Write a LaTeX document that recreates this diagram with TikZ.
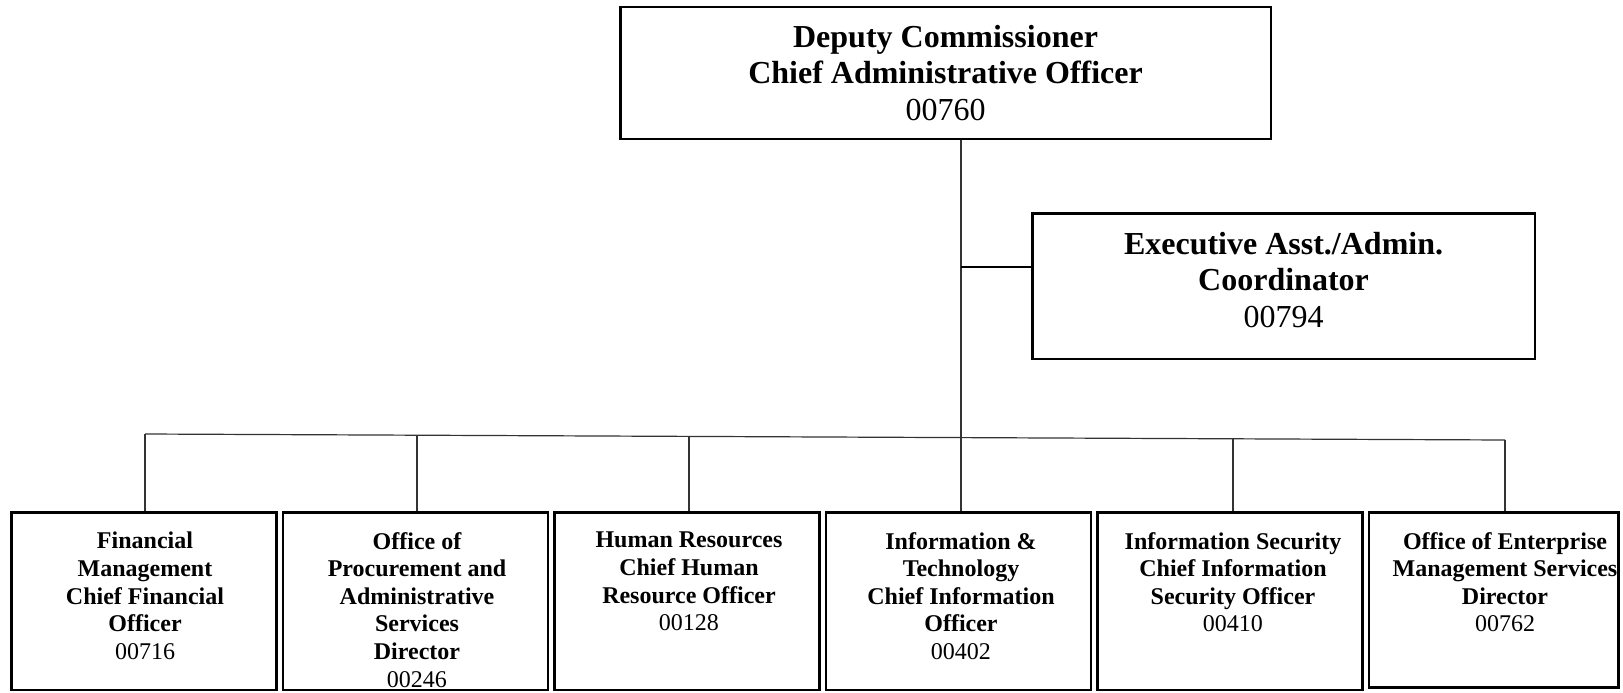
\documentclass[tikz,border=0pt]{standalone}
\usepackage{fontspec}
\setmainfont{Liberation Serif}
\usetikzlibrary{positioning, calc}

\begin{document}
\begin{tikzpicture}[x=1pt,y=-1pt]
    \tikzstyle{block} = [rectangle,draw=black,line width=2.5pt,fill=white,inner sep=0pt,anchor=north west]
    \tikzstyle{head} = [align=center,font=\fontsize{32}{36.5}\selectfont]
    \tikzstyle{unit} = [block,minimum width=265pt,minimum height=177.6pt]
    \tikzstyle{unittext} = [align=center,anchor=north,inner sep=0pt,font=\fontsize{24}{27.6}\selectfont\bfseries]
    \tikzstyle{link} = [draw=black!80,line width=1.2pt]

    \useasboundingbox (0,0) rectangle (1623,693);

    \node (dc) [block,head,minimum width=650.6pt,minimum height=131.6pt] at (619,6)
        {\textbf{Deputy Commissioner}\\\textbf{Chief Administrative Officer}\\00760};

    \node (asst) [block,minimum width=502.6pt,minimum height=145.6pt] at (1031,212) {};
    \node (assttext) [head] at ([yshift=6pt]asst.center)
        {\textbf{Executive Asst./Admin.}\\\textbf{Coordinator}\\00794};

    % bottom row
    \node (fin) [unit] at (10,511) {};
    \node (proc) [unit,right=4pt of fin.north east,anchor=north west] {};
    \node (hr) [unit,right=4pt of proc.north east,anchor=north west] {};
    \node (it) [unit,right=4pt of hr.north east,anchor=north west] {};
    \node (sec) [unit,right=4pt of it.north east,anchor=north west] {};
    \node (ems) [unit,minimum width=249.6pt,minimum height=175pt,right=4pt of sec.north east,anchor=north west] {};

    % bus and drops
    \coordinate (busl) at (145,434);
    \coordinate (busr) at (1505,440);
    \draw [link] (busl) -- (busr);
    \foreach \b [count=\i from 0] in {fin,proc,hr,it,sec,ems}
        \draw [link] ($(busl)!\i/5!(busr)$) coordinate (tap\i) -- (tap\i |- \b.north);

    \draw [link] (tap3) -- (tap3 |- dc.south);
    \coordinate (side) at ([yshift=19pt]asst.west);
    \draw [line width=2.4pt] (tap3 |- side) -- (side);

    \node (fintext) [unittext,below=21pt of tap0 |- fin.north] {Financial\\Management\\Chief Financial\\Officer\\\mdseries 00716};
    \node (proctext) [unittext,below=21pt of tap1 |- proc.north] {Office of\\Procurement and\\Administrative\\Services\\Director\\\mdseries 00246};
    \node (hrtext) [unittext,below=21pt of tap2 |- hr.north] {Human Resources\\Chief Human\\Resource Officer\\\mdseries 00128};
    \node (ittext) [unittext,below=21pt of tap3 |- it.north] {Information \&\\Technology\\Chief Information\\Officer\\\mdseries 00402};
    \node (sectext) [unittext,below=21pt of tap4 |- sec.north] {Information Security\\Chief Information\\Security Officer\\\mdseries 00410};
    \node (emstext) [unittext,below=21pt of tap5 |- ems.north] {Office of Enterprise\\Management Services\\Director\\\mdseries 00762};

\end{tikzpicture}
\end{document}
